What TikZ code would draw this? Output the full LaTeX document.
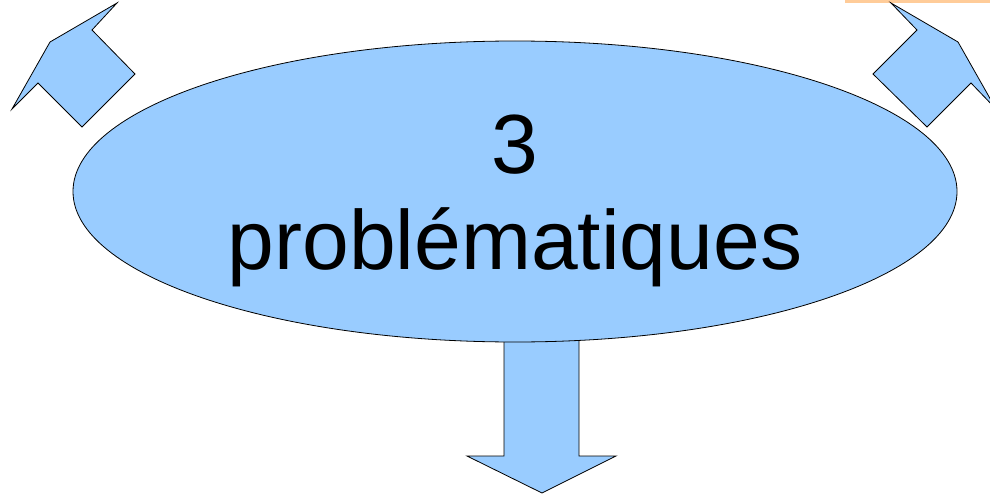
\documentclass[tikz,border=0pt]{standalone}
\usepackage{fontspec}
\setmainfont{Liberation Sans}
\usetikzlibrary{shapes.geometric,positioning}
\definecolor{bleu}{HTML}{99CCFF}
\definecolor{peche}{HTML}{FFCC99}

\begin{document}
\begin{tikzpicture}[x=1pt,y=-1pt,
    bloc/.style={fill=bleu, draw=black, line width=0.8pt, line join=miter},
    titre/.style={align=center, inner sep=0pt, font=\fontsize{84}{96}\selectfont}]
      \useasboundingbox (0,0) rectangle (990,495);
      \clip (0,0) rectangle (990,495);
      \fill[peche] (845,0) rectangle (990,3);
      % fleches du haut
      \draw[bloc] (12,109) -- (50,42) -- (117,3) -- (92,30) -- (135,74) -- (82,127) -- (38,83) -- cycle;
      \draw[bloc] (996,109) -- (958,42) -- (891,3) -- (917,30) -- (873,74) -- (927,127) -- (971,83) -- cycle;
      % fleche du bas
      \draw[bloc] (504,300) -- (504,456) -- (467,456) -- (542,493) -- (616,456) -- (579,456) -- (579,300) -- cycle;
      \node (pb) [ellipse, bloc, minimum width=884pt, minimum height=301pt, inner sep=0pt] at (515,191.5) {};
      \node (txt) [titre] at (515,201) {3\\probl\'ematiques};
    \end{tikzpicture}
\end{document}
